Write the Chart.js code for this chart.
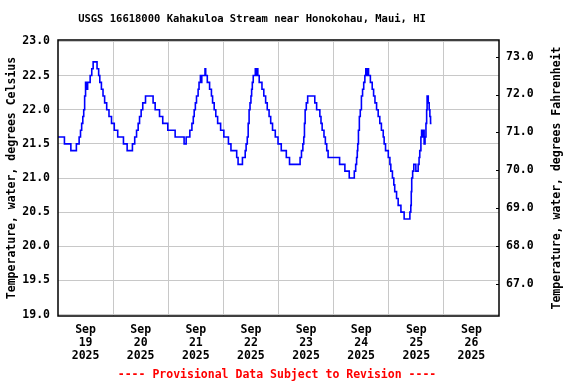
<!DOCTYPE html>
<html><head><meta charset="utf-8">
<script src="https://cdn.jsdelivr.net/npm/chart.js@4/dist/chart.umd.min.js"></script>
<style>html,body{margin:0;padding:0;background:#fff;} canvas{display:block;}</style>
</head><body>
<canvas id="c" width="576" height="384"></canvas>
<script>
// Hours since Sep 19 2025 00:00 at which the reading changes, and the reading (deg C) from that time on
const changeHours = [0,2.8,5.6,8.0,9.2,9.8,10.3,10.8,11.2,11.6,12.0,12.6,12.9,14.0,14.7,15.3,17.0,17.7,18.2,18.9,19.6,20.3,21.2,22.2,23.3,24.5,26.0,28.5,30.1,32.4,33.4,34.2,34.9,35.5,36.2,36.9,38.1,41.4,42.3,44.2,45.6,47.8,51.0,54.9,55.8,57.4,58.3,58.9,59.3,59.8,60.3,61.0,61.4,62.0,62.3,62.6,64.0,64.3,65.0,66.0,66.8,67.3,68.0,68.7,69.5,70.8,72.2,74.2,75.3,77.8,78.4,80.3,81.5,81.9,82.4,82.8,83.2,83.6,84.0,84.3,84.6,85.0,85.9,86.3,86.6,87.0,87.6,88.8,89.6,90.4,91.1,91.9,92.6,93.4,94.6,95.8,97.2,99.4,100.8,105.4,106.0,106.6,107.0,107.3,107.6,108.1,108.7,111.8,112.6,114.0,114.5,115.0,115.8,116.4,117.0,117.6,122.6,124.9,126.8,129.0,129.6,130.0,130.3,130.5,130.8,131.2,131.6,132.1,132.6,133.1,133.6,134.0,134.3,134.5,135.2,136.0,136.8,137.4,138.0,138.7,139.4,140.1,140.8,141.6,142.0,142.6,143.8,144.5,144.9,145.6,146.2,146.6,147.4,148.1,149.3,150.7,153.2,153.6,153.8,154.0,154.4,154.9,155.8,156.8,157.2,157.5,158.0,158.3,158.6,158.9,159.4,159.8,160.2,160.5,160.7,161.2,161.6,161.9,162.2,162.6];
const tempC = [21.6,21.5,21.4,21.5,21.6,21.7,21.8,21.9,22.0,22.2,22.4,22.3,22.4,22.5,22.6,22.7,22.6,22.5,22.4,22.3,22.2,22.1,22.0,21.9,21.8,21.7,21.6,21.5,21.4,21.5,21.6,21.7,21.8,21.9,22.0,22.1,22.2,22.1,22.0,21.9,21.8,21.7,21.6,21.5,21.6,21.7,21.8,21.9,22.0,22.1,22.2,22.3,22.4,22.5,22.4,22.5,22.6,22.5,22.4,22.3,22.2,22.1,22.0,21.9,21.8,21.7,21.6,21.5,21.4,21.3,21.2,21.3,21.4,21.5,21.6,21.8,22.0,22.1,22.2,22.3,22.4,22.5,22.6,22.5,22.6,22.5,22.4,22.3,22.2,22.1,22.0,21.9,21.8,21.7,21.6,21.5,21.4,21.3,21.2,21.3,21.4,21.5,21.6,21.8,22.0,22.1,22.2,22.1,22.0,21.9,21.8,21.7,21.6,21.5,21.4,21.3,21.2,21.1,21.0,21.1,21.2,21.3,21.4,21.5,21.7,21.9,22.0,22.2,22.3,22.4,22.5,22.6,22.5,22.6,22.5,22.4,22.3,22.2,22.1,22.0,21.9,21.8,21.7,21.6,21.5,21.4,21.3,21.2,21.1,21.0,20.9,20.8,20.7,20.6,20.5,20.4,20.5,20.6,20.8,21.0,21.1,21.2,21.1,21.2,21.3,21.4,21.6,21.7,21.6,21.7,21.5,21.6,21.8,22.0,22.2,22.1,22.0,21.9,21.8,21.8];
const dayNumbers = ['19','20','21','22','23','24','25','26'];
const monthName = 'Sep';
const yearName = '2025';
const celsiusTicks = [19.0,19.5,20.0,20.5,21.0,21.5,22.0,22.5,23.0];
const fahrenheitTicks = [67,68,69,70,71,72,73];
const titleText = 'USGS 16618000 Kahakuloa Stream near Honokohau, Maui, HI';
const leftTitle = 'Temperature, water, degrees Celsius';
const rightTitle = 'Temperature, water, degrees Fahrenheit';
const footText = '---- Provisional Data Subject to Revision ----';

const MONO = '"DejaVu Sans Mono", monospace';
const C_MIN = 18.98, C_MAX = 23.02;
const toF = c => c * 1.8 + 32;
const GRID = '#c8c8c8';

const framePlugin = {
  id: 'frame',
  afterDraw(chart) {
    const {ctx, chartArea: a, scales} = chart;
    ctx.save();
    ctx.strokeStyle = '#000';
    ctx.lineWidth = 1;
    fahrenheitTicks.forEach(f => {
      const y = Math.round(scales.yF.getPixelForValue(f)) + 0.5;
      ctx.beginPath(); ctx.moveTo(a.right - 3, y); ctx.lineTo(a.right, y); ctx.stroke();
    });
    ctx.lineWidth = 1.5;
    ctx.strokeRect(a.left, a.top, a.right - a.left, a.bottom - a.top);
    ctx.fillStyle = '#000';
    ctx.textAlign = 'center';
    ctx.textBaseline = 'middle';
    ctx.font = 'bold 10.5px ' + MONO;
    ctx.fillText(titleText, 252, 19);
    ctx.font = 'bold 11.5px ' + MONO;
    const cy = (a.top + a.bottom) / 2;
    ctx.save(); ctx.translate(12, cy); ctx.rotate(-Math.PI / 2); ctx.fillText(leftTitle, 0, 0); ctx.restore();
    ctx.save(); ctx.translate(557, cy); ctx.rotate(-Math.PI / 2); ctx.fillText(rightTitle, 0, 0); ctx.restore();
    ctx.fillStyle = '#ff0000';
    ctx.fillText(footText, 277, 375);
    ctx.restore();
  }
};

const tickFont = {family: MONO, size: 11.5, weight: 'bold', lineHeight: 1.13};

new Chart(document.getElementById('c'), {
  type: 'line',
  data: {
    datasets: [{
      data: changeHours.map((h, i) => ({x: h, y: tempC[i]})),
      borderColor: '#0000ff',
      borderWidth: 1.6,
      pointRadius: 0,
      stepped: true,
      fill: false,
      yAxisID: 'y'
    }]
  },
  options: {
    responsive: false,
    animation: false,
    devicePixelRatio: 1,
    layout: {padding: {top: 40, left: 0, right: 0, bottom: 0}},
    plugins: {legend: {display: false}, tooltip: {enabled: false}, title: {display: false}},
    scales: {
      x: {
        type: 'linear', min: 0, max: 192,
        afterBuildTicks: s => {
          const t = [];
          dayNumbers.forEach((d, i) => { t.push({value: i * 24 + 12}); if (i < dayNumbers.length - 1) t.push({value: (i + 1) * 24}); });
          s.ticks = t;
        },
        afterFit: s => { s.height = 68; },
        ticks: {
          autoSkip: false, maxRotation: 0, minRotation: 0, padding: 8, color: '#000', font: tickFont,
          callback: v => (v % 24 === 12) ? [monthName, dayNumbers[(v - 12) / 24], yearName] : ''
        },
        grid: {color: c => (c.tick && c.tick.value % 24 === 0) ? GRID : 'rgba(0,0,0,0)', drawTicks: false, lineWidth: 1},
        border: {display: false}
      },
      y: {
        type: 'linear', position: 'left', min: C_MIN, max: C_MAX,
        afterBuildTicks: s => { s.ticks = celsiusTicks.map(v => ({value: v})); },
        afterFit: s => { s.width = 58; },
        ticks: {padding: 8, color: '#000', font: tickFont, callback: v => Number(v).toFixed(1)},
        grid: {color: GRID, drawTicks: false, lineWidth: 1},
        border: {display: false}
      },
      yF: {
        type: 'linear', position: 'right', min: toF(C_MIN), max: toF(C_MAX),
        afterBuildTicks: s => { s.ticks = fahrenheitTicks.map(v => ({value: v})); },
        afterFit: s => { s.width = 77; },
        ticks: {padding: 7, color: '#000', font: tickFont, callback: v => Number(v).toFixed(1)},
        grid: {drawOnChartArea: false, drawTicks: false},
        border: {display: false}
      }
    }
  },
  plugins: [framePlugin]
});
</script>
</body></html>
